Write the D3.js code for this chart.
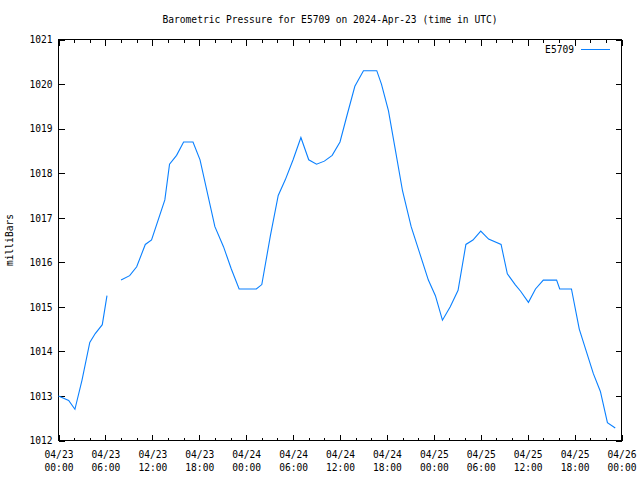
<!DOCTYPE html>
<html><head><meta charset="utf-8">
<script src="https://cdn.jsdelivr.net/npm/d3@7"></script>
<style>
body{margin:0;background:#fff;}
text{font-family:"DejaVu Sans Mono","Liberation Mono",monospace;font-size:9.6px;fill:#000;}
</style></head><body>
<svg id="c" width="640" height="480"></svg>
<script>
const title = "Barometric Pressure for E5709 on 2024-Apr-23 (time in UTC)";
const yLabel = "milliBars";
const seriesName = "E5709";
// hours after 2024-04-23 00:00 UTC (null value = data gap)
const hours = [0,1.3,2.1,3.0,4.0,4.7,5.6,6.2,7.0,8.0,9.1,10.0,11.1,11.9,13.6,14.2,15.1,16.0,17.2,18.1,20.0,21.1,22.1,23.1,25.3,26.0,27.1,28.1,29.0,30.0,31.0,32.0,33.0,34.0,35.0,36.0,36.9,37.9,39.0,40.7,41.3,42.2,43.0,44.0,45.1,46.2,47.3,48.2,49.1,50.1,51.1,52.1,53.0,54.0,55.0,56.6,57.4,58.4,59.1,60.1,61.0,62.0,63.7,64.1,65.6,66.6,67.5,68.4,69.3,70.2,71.2];
const pressure = [1013.0,1012.9,1012.7,1013.35,1014.2,1014.4,1014.6,1015.25,null,1015.6,1015.7,1015.9,1016.4,1016.5,1017.4,1018.2,1018.4,1018.7,1018.7,1018.3,1016.8,1016.35,1015.85,1015.4,1015.4,1015.5,1016.6,1017.5,1017.85,1018.3,1018.8,1018.3,1018.2,1018.27,1018.4,1018.7,1019.3,1019.95,1020.3,1020.3,1020.0,1019.4,1018.6,1017.6,1016.8,1016.2,1015.6,1015.25,1014.7,1015.0,1015.37,1016.4,1016.5,1016.7,1016.52,1016.4,1015.74,1015.5,1015.35,1015.1,1015.4,1015.6,1015.6,1015.4,1015.4,1014.5,1014.0,1013.5,1013.1,1012.4,1012.28];
const yTicks = [1012,1013,1014,1015,1016,1017,1018,1019,1020,1021];
const xTickLabels = ["04/23 00:00","04/23 06:00","04/23 12:00","04/23 18:00","04/24 00:00","04/24 06:00","04/24 12:00","04/24 18:00","04/25 00:00","04/25 06:00","04/25 12:00","04/25 18:00","04/26 00:00"];

const t0 = Date.UTC(2024,3,23,0,0);
const H = 3600e3;
const data = hours.map((h,i)=>({t:new Date(t0+h*H), v:pressure[i]}));
const xMajor = xTickLabels.map((_,i)=>new Date(t0+i*6*H));
const xMinor = d3.range(0,73,2).map(h=>new Date(t0+h*H));

const L=58.5, R=621.5, T=39.5, B=440.5;
const x = d3.scaleUtc().domain([new Date(t0), new Date(t0+72*H)]).range([L,R]);
const y = d3.scaleLinear().domain([1012,1021]).range([B,T]);
const svg = d3.select("#c");

function styleAxis(g){
  g.select(".domain").remove();
  g.selectAll("line").attr("stroke","#000").attr("shape-rendering","crispEdges");
}
// bottom axis with labels
const gb = svg.append("g").attr("transform",`translate(0,${B})`)
  .call(d3.axisBottom(x).tickValues(xMajor).tickSize(-6).tickPadding(0).tickFormat((d,i)=>""));
styleAxis(gb);
gb.selectAll(".tick text").each(function(d,i){
  const parts = xTickLabels[i].split(" ");
  const s = d3.select(this).attr("y",0).attr("dy",null);
  s.append("tspan").attr("x",0).attr("y",17).text(parts[0]);
  s.append("tspan").attr("x",0).attr("y",30).text(parts[1]);
});
gb.attr("font-size",null).attr("font-family",null);
svg.append("g").attr("transform",`translate(0,${B})`)
  .call(d3.axisBottom(x).tickValues(xMinor).tickSize(-3).tickFormat(""))
  .call(styleAxis);
// top mirror
svg.append("g").attr("transform",`translate(0,${T})`)
  .call(d3.axisTop(x).tickValues(xMajor).tickSize(-6).tickFormat("")).call(styleAxis);
svg.append("g").attr("transform",`translate(0,${T})`)
  .call(d3.axisTop(x).tickValues(xMinor).tickSize(-3).tickFormat("")).call(styleAxis);
// left axis
const gl = svg.append("g").attr("transform",`translate(${L},0)`)
  .call(d3.axisLeft(y).tickValues(yTicks).tickSize(-6).tickPadding(7).tickFormat(d3.format("d")));
styleAxis(gl);
gl.attr("font-size",null).attr("font-family",null);
gl.selectAll(".tick text").attr("x",-6).attr("dy","0.35em");
// right mirror
svg.append("g").attr("transform",`translate(${R},0)`)
  .call(d3.axisRight(y).tickValues(yTicks).tickSize(-6).tickFormat("")).call(styleAxis);

// border
svg.append("rect").attr("x",L).attr("y",T).attr("width",R-L).attr("height",B-T)
  .attr("fill","none").attr("stroke","#000").attr("shape-rendering","crispEdges");

// line
const line = d3.line().defined(d=>d.v!==null).x(d=>x(d.t)).y(d=>y(d.v));
svg.append("path").datum(data).attr("d",line).attr("fill","none")
  .attr("stroke","#0a80ff").attr("stroke-width",1.1);

// title
svg.append("text").attr("x",330).attr("y",23).attr("text-anchor","middle").text(title);
// y label
svg.append("text").attr("transform","translate(13,240) rotate(-90)").attr("text-anchor","middle").text(yLabel);
// legend
svg.append("text").attr("x",574).attr("y",53).attr("text-anchor","end").text(seriesName);
svg.append("line").attr("x1",581).attr("x2",610).attr("y1",49.5).attr("y2",49.5)
  .attr("stroke","#0a80ff").attr("stroke-width",1).attr("shape-rendering","crispEdges");
</script></body></html>
